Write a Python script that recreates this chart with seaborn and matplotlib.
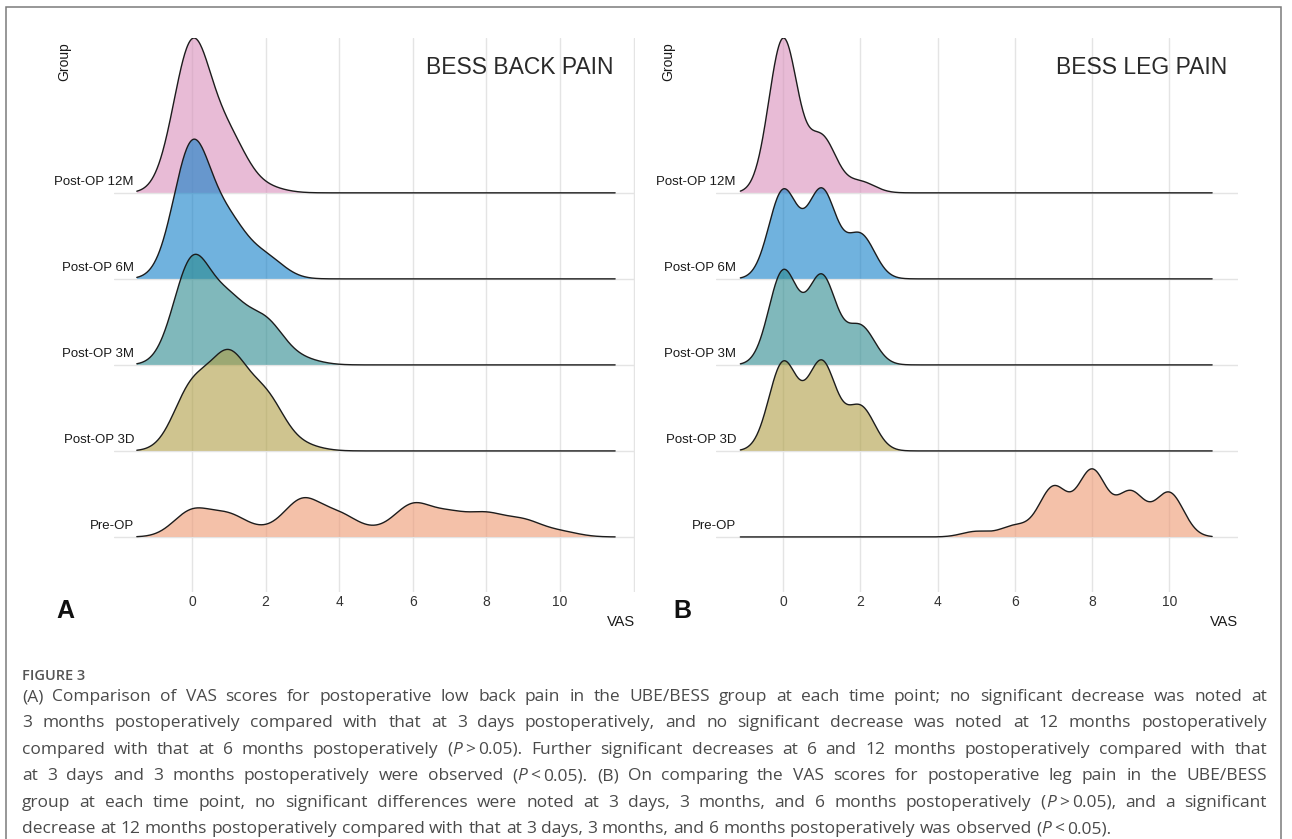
import numpy as np
import matplotlib
matplotlib.use("Agg")
import matplotlib.pyplot as plt
from matplotlib.colors import to_rgba
from matplotlib.patches import Rectangle
from matplotlib.transforms import Affine2D
import seaborn as sns

W, H = 1292, 839

# VAS score and number of patients at each score (estimated from the ridges)
vas = np.arange(11)
groups = ["Pre-OP", "Post-OP 3D", "Post-OP 3M", "Post-OP 6M", "Post-OP 12M"]

back_pre = [5, 4, 1, 7, 4, 1, 6, 4, 4, 3, 1]
back_3d = [12, 17, 10, 1, 0, 0, 0, 0, 0, 0, 0]
back_3m = [20, 11, 8, 1, 0, 0, 0, 0, 0, 0, 0]
back_6m = [26, 10, 4, 0, 0, 0, 0, 0, 0, 0, 0]
back_12m = [29, 10, 1, 0, 0, 0, 0, 0, 0, 0, 0]

leg_pre = [0, 0, 0, 0, 0, 1, 2, 9, 12, 8, 8]
leg_3d = [16, 16, 8, 0, 0, 0, 0, 0, 0, 0, 0]
leg_3m = [17, 16, 7, 0, 0, 0, 0, 0, 0, 0, 0]
leg_6m = [16, 16, 8, 0, 0, 0, 0, 0, 0, 0, 0]
leg_12m = [28, 10, 2, 0, 0, 0, 0, 0, 0, 0, 0]

x_ticks = [0, 2, 4, 6, 8, 10]

colors = {
    "Post-OP 12M": "#D98FBB",
    "Post-OP 6M": "#117FC8",
    "Post-OP 3M": "#2B8A8F",
    "Post-OP 3D": "#AF9E44",
    "Pre-OP": "#EE9871",
}

caption = [
    "(A) Comparison of VAS scores for postoperative low back pain in the UBE/BESS group at each time point; no significant decrease was noted at",
    "3 months postoperatively compared with that at 3 days postoperatively, and no significant decrease was noted at 12 months postoperatively",
    "compared with that at 6 months postoperatively (_P_~>~0.05). Further significant decreases at 6 and 12 months postoperatively compared with that",
    "at 3 days and 3 months postoperatively were observed (_P_~<~0.05). (B) On comparing the VAS scores for postoperative leg pain in the UBE/BESS",
    "group at each time point, no significant differences were noted at 3 days, 3 months, and 6 months postoperatively (_P_~>~0.05), and a significant",
    "decrease at 12 months postoperatively compared with that at 3 days, 3 months, and 6 months postoperatively was observed (_P_~<~0.05).",
]

sns.set_theme(style="white")
plt.rcParams["font.family"] = ["Liberation Sans", "DejaVu Sans"]


def fx(px):
    return px / W


def fy(py):
    return 1 - py / H


def ridges(ax, data, bw, height=1.8, alpha=0.6):
    lo, hi = vas.min() - 3 * bw, vas.max() + 3 * bw
    drawn = []
    z = 2
    # top ridge first so that lower ridges overlap it
    for row in range(len(groups) - 1, -1, -1):
        grp = groups[row]
        w = np.asarray(data[grp], float)
        x = vas[w > 0]
        w = w[w > 0]
        factor = bw / np.sqrt(np.cov(x, aweights=w))
        nc, nl = len(ax.collections), len(ax.lines)
        kw = dict(x=x, weights=w, bw_method=factor, cut=50, clip=(lo, hi),
                  gridsize=800, ax=ax)
        sns.kdeplot(**kw, fill=True, facecolor=to_rgba(colors[grp], alpha),
                    edgecolor="none", linewidth=0, zorder=z)
        sns.kdeplot(**kw, color="#1c1c1c", linewidth=1.0, zorder=z + 1)
        z += 2
        drawn.append((row, ax.collections[nc:], ax.lines[nl:]))
    peak = max(l.get_ydata().max() for _, _, ls in drawn for l in ls)
    k = height / peak
    for row, cols, lines in drawn:
        tr = Affine2D().scale(1, k).translate(0, row) + ax.transData
        for art in list(cols) + list(lines):
            art.set_transform(tr)


def panel(left, right, xlim, data, bw, ticks, title, title_right, letter, letter_x, group_x):
    ax = fig.add_axes([fx(left), fy(592), (right - left) / W, (592 - 38) / H])
    ridges(ax, data, bw)
    ax.set_xlim(*xlim)
    ax.set_ylim(-0.64, 5.80)
    ax.set_xticks(ticks, [str(t) if t <= 10 else "" for t in ticks])
    ax.set_yticks(range(len(groups)), [""] * len(groups))
    ax.set_xlabel("")
    ax.set_ylabel("")
    ax.grid(True, color="#E4E4E4", linewidth=1.0)
    ax.set_axisbelow(True)
    ax.tick_params(length=0, labelsize=10, labelcolor="#333333", pad=2)
    for s in ax.spines.values():
        s.set_visible(False)
    for row, grp in enumerate(groups):
        ax.text(20 / (right - left), row + 8 / 86, grp, transform=ax.get_yaxis_transform(),
                ha="right", va="baseline", fontsize=9.5, color="#1a1a1a")
    fig.text(fx(title_right), fy(67), title, ha="right", va="center",
             fontsize=16.5, color="#2a2a2a")
    fig.text(fx(group_x), fy(42), "Group", rotation=90, ha="center", va="top",
             fontsize=10, color="#1a1a1a")
    fig.text(fx(letter_x), fy(618), letter, ha="left", va="baseline",
             fontsize=18, fontweight="bold", color="#111111")
    fig.text(fx(right), fy(622), "VAS", ha="right", va="center",
             fontsize=10.5, color="#1a1a1a")
    return ax


fig = plt.figure(figsize=(W / 100, H / 100), dpi=100)
fig.patch.set_facecolor("white")

back = dict(zip(groups, [back_pre, back_3d, back_3m, back_6m, back_12m]))
leg = dict(zip(groups, [leg_pre, leg_3d, leg_3m, leg_6m, leg_12m]))

panel(114, 635, (-2.12, 12.04), back, 0.5, x_ticks + [12],
      "BESS BACK PAIN", 613, "A", 56, 64)
panel(716, 1238, (-1.74, 11.78), leg, 0.37, x_ticks,
      "BESS LEG PAIN", 1227, "B", 673, 668)

# frame around the figure
fig.add_artist(Rectangle((fx(6), fy(860)), fx(1281) - fx(6), fy(7) - fy(860),
                         transform=fig.transFigure, fill=False,
                         edgecolor="#7a7a7a", linewidth=1.1))

# caption
cap_font = ["Open Sans", "DejaVu Sans"]
fig.text(fx(22), fy(676), "FIGURE 3", ha="left", va="center", fontsize=10.5,
         fontweight="semibold", color="#555555", family=cap_font)

renderer = fig.canvas.get_renderer()


def caption_line(line, ypx, x0=22, x1=1267, justify=True, fs=12.5, color="#4a4a4a"):
    words = []
    for word in line.split(" "):
        parts = []
        for j, chunk in enumerate(word.split("~")):
            first = True
            for k, seg in enumerate(chunk.split("_")):
                if not seg:
                    continue
                gap = 3 if (j > 0 and first) else 0
                first = False
                t = fig.text(0, fy(ypx), seg, ha="left", va="center", fontsize=fs,
                             color=color, family=cap_font,
                             style="italic" if k % 2 else "normal")
                wpx = t.get_window_extent(renderer).width
                parts.append((t, gap, wpx))
        words.append(parts)
    widths = [sum(g + wpx for _, g, wpx in p) for p in words]
    if justify:
        space = (x1 - x0 - sum(widths)) / (len(words) - 1)
    else:
        space = fs * 100 / 72 * 0.26
    x = x0
    for parts, wd in zip(words, widths):
        xx = x
        for t, g, wpx in parts:
            xx += g
            t.set_x(fx(xx))
            xx += wpx
        x += wd + space


for i, line in enumerate(caption):
    caption_line(line, 697 + i * 26.4, justify=i < len(caption) - 1)

fig.savefig("out.png", dpi=100)
